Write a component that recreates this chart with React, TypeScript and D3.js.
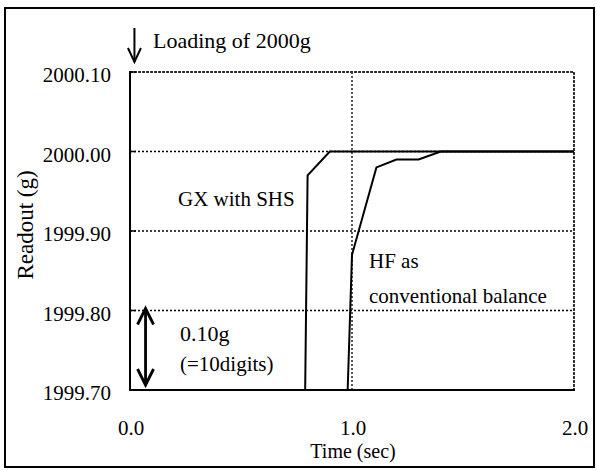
import React from 'react';
import * as d3 from 'd3';

const yTicks = [1999.7, 1999.8, 1999.9, 2000.0, 2000.1];
const yTickLabels = ['1999.70', '1999.80', '1999.90', '2000.00', '2000.10'];
const xTicks = [0, 1, 2];
const xTickLabels = ['0.0', '1.0', '2.0'];
const gxTime = [0.7, 0.8, 0.9, 2.0];
const gxReadout = [1997.5, 1999.97, 2000.0, 2000.0];
const hfTime = [0.9, 1.0, 1.11, 1.2, 1.3, 1.4, 2.0];
const hfReadout = [1999.0, 1999.87, 1999.98, 1999.99, 1999.99, 2000.0, 2000.0];
const vGrid = [1];
const hGrid = [1999.8, 1999.9, 2000.0];

const W = 597;
const H = 470;
const L = 130, R = 574, T = 72, B = 390;
const FONT = 'Liberation Serif';
const ts = (size: number): React.CSSProperties => ({ fontFamily: FONT, fontSize: size + 'px' });

export default function App() {
  const x = d3.scaleLinear().domain([0, 2]).range([L, R]);
  const y = d3.scaleLinear().domain([1999.7, 2000.1]).range([B, T]);
  const line = d3.line<[number, number]>().x(d => x(d[0])).y(d => y(d[1]));
  const gx = line(gxTime.map((t, i) => [t, gxReadout[i]] as [number, number])) || '';
  const hf = line(hfTime.map((t, i) => [t, hfReadout[i]] as [number, number])) || '';

  const ax = x(0.02);
  const dax = x(0.07);
  const dTop = y(1999.8) - 2;
  const dBot = y(1999.7) - 5;

  return (
    <svg width={W} height={H} style={{ position: 'absolute', left: 0, top: 0, background: '#fff' }}>
      <defs>
        <clipPath id="plotclip">
          <rect x={L} y={T} width={R - L} height={B - T} />
        </clipPath>
      </defs>
      <rect x={5} y={8} width={589} height={459} fill="#fff" stroke="#000" strokeWidth={2} />

      {hGrid.map(v => (
        <line key={'h' + v} x1={L} x2={R} y1={y(v)} y2={y(v)} stroke="#000" strokeWidth={1.3} strokeDasharray="2,2" />
      ))}
      {vGrid.map(v => (
        <line key={'v' + v} x1={x(v)} x2={x(v)} y1={T} y2={B} stroke="#000" strokeWidth={1.3} strokeDasharray="2,2" />
      ))}
      <line x1={L} x2={R} y1={T} y2={T} stroke="#333" strokeWidth={2} strokeDasharray="3,1" />
      <line x1={R} x2={R} y1={T} y2={B} stroke="#333" strokeWidth={2} strokeDasharray="3,1" />

      <g clipPath="url(#plotclip)">
        <path d={gx} fill="none" stroke="#000" strokeWidth={2} />
        <path d={hf} fill="none" stroke="#000" strokeWidth={2} />
      </g>

      <line x1={L} x2={L} y1={T - 1} y2={B + 1} stroke="#000" strokeWidth={2} />
      <line x1={L - 1} x2={R + 1} y1={B} y2={B} stroke="#000" strokeWidth={2} />
      {yTicks.map(v => (
        <line key={'t' + v} x1={L} x2={L + 6} y1={y(v)} y2={y(v)} stroke="#000" strokeWidth={1.5} />
      ))}

      {yTicks.map((v, i) => (
        <text key={'yl' + v} style={ts(21)} x={111} y={y(v) + 10} textAnchor="end">{yTickLabels[i]}</text>
      ))}
      {xTicks.map((v, i) => (
        <text key={'xl' + v} style={ts(21)} x={x(v) + 1} y={435} textAnchor="middle">{xTickLabels[i]}</text>
      ))}
      <text style={ts(20)} x={353} y={457.5} textAnchor="middle">Time (sec)</text>
      <text style={ts(23)} transform="translate(33,225) rotate(-90)" textAnchor="middle">Readout (g)</text>

      <text style={ts(22)} x={153} y={48}>Loading of 2000g</text>
      <text style={ts(21)} x={178} y={206}>GX with SHS</text>
      <text style={ts(21)} x={369} y={268}>HF as</text>
      <text style={ts(21)} x={369} y={303}>conventional balance</text>
      <text style={ts(22)} x={180} y={341}>0.10g</text>
      <text style={ts(21)} x={180} y={371}>(=10digits)</text>

      <g stroke="#000" fill="none" strokeWidth={2}>
        <line x1={ax} x2={ax} y1={28} y2={62} />
        <polyline points={`${ax - 6.5},${48} ${ax},${62} ${ax + 6.5},${48}`} />
      </g>
      <g stroke="#000" fill="none" strokeWidth={2.8}>
        <line x1={dax} x2={dax} y1={dTop} y2={dBot} />
        <polyline points={`${dax - 8},${dTop + 16} ${dax},${dTop} ${dax + 8},${dTop + 16}`} />
        <polyline points={`${dax - 8},${dBot - 16} ${dax},${dBot} ${dax + 8},${dBot - 16}`} />
      </g>
    </svg>
  );
}
